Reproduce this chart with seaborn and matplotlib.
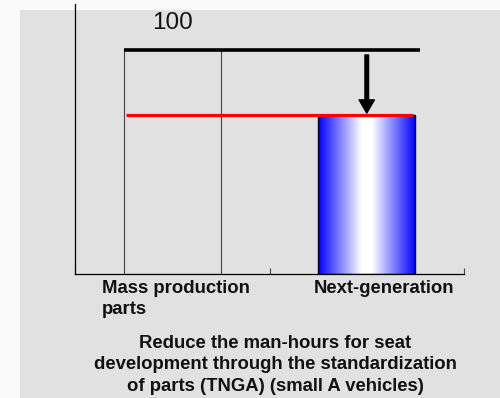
import matplotlib
matplotlib.use("Agg")
import matplotlib.pyplot as plt
import seaborn as sns
import numpy as np
import pandas as pd
from matplotlib.patches import Rectangle

# Seat development man-hours, indexed to mass production parts = 100
categories = ["Mass production\nparts", "Next-generation"]
man_hours = [100, 71]
baseline_label = "100"
caption = ("Reduce the man-hours for seat\n"
           "development through the standardization\n"
           "of parts (TNGA) (small A vehicles)")

sns.set_theme(style="white")
plt.rcParams["font.family"] = ["Liberation Sans", "DejaVu Sans"]

W, H = 500, 398
fig = plt.figure(figsize=(W / 100, H / 100), dpi=100, facecolor="#fafafa")
# grey panel behind the chart
fig.patches.append(Rectangle((20 / W, 0), 1, 1 - 10 / H, transform=fig.transFigure,
                             facecolor="#e1e1e1", edgecolor="none", zorder=-10))

ax = fig.add_axes([75 / W, 1 - 274 / H, 389 / W, 270 / H])
ax.patch.set_visible(False)

df = pd.DataFrame({"stage": categories, "hours": man_hours})
sns.barplot(data=df, x="stage", y="hours", width=0.5, ax=ax, color="white",
            saturation=1, errorbar=None)

bars = ax.patches
ref_bar, new_bar = bars[0], bars[1]
ref_bar.set_facecolor("none")
ref_bar.set_edgecolor("#444444")
ref_bar.set_linewidth(0.8)

new_bar.set_facecolor("none")
new_bar.set_edgecolor("#000022")
new_bar.set_linewidth(1.0)
new_bar.set_zorder(3)

# horizontal blue-white-blue shading inside the next-generation bar
x0, y0 = new_bar.get_x(), new_bar.get_y()
bw, bh = new_bar.get_width(), new_bar.get_height()
t = np.linspace(0, 1, 256)
white = np.clip((1 - np.abs(2 * t - 1)) * 1.12, 0, 1)
grad = np.zeros((1, t.size, 3))
grad[0, :, 0] = white
grad[0, :, 1] = white
grad[0, :, 2] = 1.0
img = ax.imshow(grad, extent=[x0, x0 + bw, y0, y0 + bh], aspect="auto",
                interpolation="bicubic", zorder=2)
img.set_clip_path(new_bar)

ax.set_xlim(-0.5, 1.5)
ax.set_ylim(0, 120.8)

left_edge = ref_bar.get_x()
right_edge = new_bar.get_x() + new_bar.get_width()

# reference level and reduced level
ax.hlines(man_hours[0], left_edge, right_edge + 0.026, colors="black",
          linewidth=2.6, zorder=4)
ax.hlines(man_hours[1], left_edge + 0.012, right_edge - 0.012, colors="#ff0000",
          linewidth=2.3, zorder=4)

ax.annotate("", xy=(1, man_hours[1] + 1.0), xytext=(1, man_hours[0] - 2),
            arrowprops=dict(facecolor="black", edgecolor="black", width=2.6,
                            headwidth=11, headlength=9.5, shrink=0), zorder=5)

ax.annotate(baseline_label, xy=(0, man_hours[0]), xytext=(0, 15.5),
            textcoords="offset points", ha="center", va="baseline",
            fontsize=17.5, color="#111111")

ax.set_xticks([-0.5, 0.5, 1.5])
ax.set_xticklabels([])
ax.set_yticks([])
ax.set_xlabel("")
ax.set_ylabel("")
ax.tick_params(axis="x", direction="in", length=4.3, width=0.8, color="#444444",
               bottom=True)
for side in ("top", "right"):
    ax.spines[side].set_visible(False)
for side in ("left", "bottom"):
    ax.spines[side].set_color("black")
    ax.spines[side].set_linewidth(0.9)

label_font = dict(fontsize=13.3, fontweight="bold", color="#111111")
fig.text(102 / W, 1 - 280 / H, categories[0], ha="left", va="top",
         linespacing=1.3, **label_font)
fig.text(314 / W, 1 - 280 / H, categories[1], ha="left", va="top", **label_font)
fig.text(275 / W, 1 - 335 / H, caption, ha="center", va="top",
         multialignment="center", linespacing=1.33, **label_font)

fig.savefig("out.png", dpi=100, facecolor=fig.get_facecolor())
